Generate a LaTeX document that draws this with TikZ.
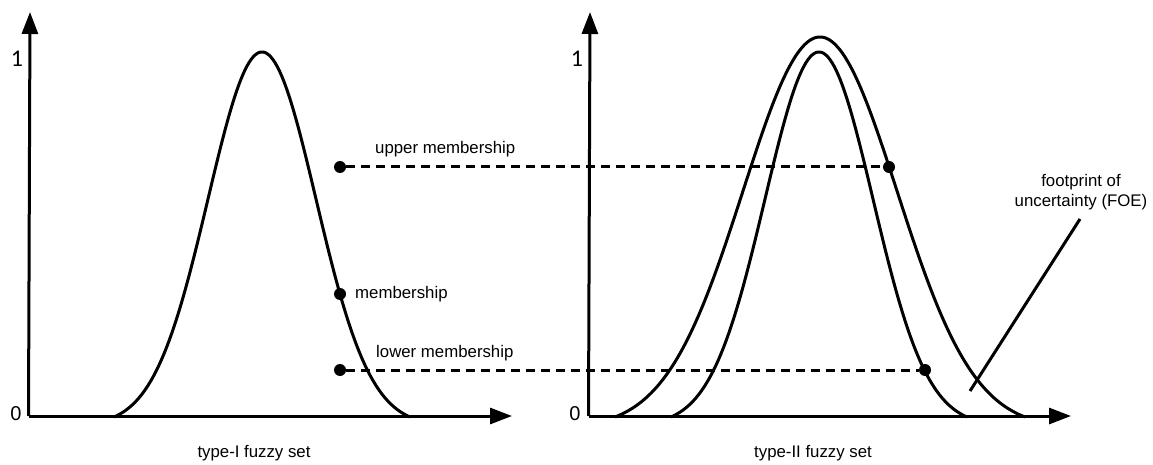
\documentclass[tikz,border=0pt]{standalone}
\usepackage{fontspec}
\setmainfont{Liberation Sans}
\newfontfamily\calib{Carlito}
\usetikzlibrary{arrows.meta}
\begin{document}
\begin{tikzpicture}[x=1pt,y=-1pt,
  axis/.style={line width=3pt,-{Triangle[length=22pt,width=16pt]}},
  curve/.style={line width=3pt,line join=round},
  dot/.style={circle,fill=black,inner sep=0pt,minimum size=12pt},
  dashline/.style={line width=3pt,dash pattern=on 9pt off 6pt},
  lbl/.style={font=\fontsize{16.8}{20}\selectfont,inner sep=0pt},
  onelbl/.style={font=\calib\fontsize{24}{24}\selectfont,inner sep=0pt},
  zerolbl/.style={font=\fontsize{20}{20}\selectfont,inner sep=0pt}]
\useasboundingbox (0,0) rectangle (1153,465);
% left axes
\coordinate (lo) at (30,416);
\coordinate (ly) at (30,12);
\coordinate (lx) at (512,416);
\draw[axis] ([xshift=-1.5pt]lo) -- (ly);
\draw[axis] ([xshift=-1.5pt]lo) -- (lx);
\node[onelbl] (l1) at (17,59) {1};
\node[zerolbl] (l0) at (16,414) {0};
% right axes
\coordinate (ro) at (590,416);
\coordinate (ry) at (590,12);
\coordinate (rx) at (1071,416);
\draw[axis] ([xshift=-1.5pt]ro) -- (ry);
\draw[axis] ([xshift=-1.5pt]ro) -- (rx);
\node[onelbl] (r1) at (577,59) {1};
\node[zerolbl] (r0) at (575,414) {0};
% curves
\draw[curve] plot[domain=-148:148,samples=150,smooth] ({262+\x},{417-365*(exp(-0.5*(\x/54)^2)-0.0234)/0.9766});
\draw[curve] plot[domain=-148:148,samples=150,smooth] ({819+\x},{417-365*(exp(-0.5*(\x/54)^2)-0.0234)/0.9766});
\draw[curve] plot[domain=-205:205,samples=170,smooth] ({820+\x},{417-380*(exp(-0.5*(\x/77)^2)-0.0289)/0.9711});
% dots
\node[dot] (ul) at (340,167) {};
\node[dot] (mem) at (340,294) {};
\node[dot] (ll) at (340,370) {};
\node[dot] (ur) at (889,167) {};
\node[dot] (lr) at (925,370) {};
\draw[dashline] (ul) -- (ur);
\draw[dashline] (ll) -- (lr);
% labels
\node[lbl,anchor=west] (tu) at (375,149) {upper membership};
\node[lbl,anchor=west] (tm) at (355,294) {membership};
\node[lbl,anchor=west] (tl) at (376,353) {lower membership};
\node[lbl] (t1) at (254,453) {type-I fuzzy set};
\node[lbl] (t2) at (813,453) {type-II fuzzy set};
\node[lbl,align=center] (foe) at (1081,192) {footprint of\\uncertainty (FOE)};
\coordinate (foestart) at (1080,219);
\coordinate (foeend) at (970,391);
\draw[line width=3pt] (foestart) -- (foeend);
\end{tikzpicture}
\end{document}
